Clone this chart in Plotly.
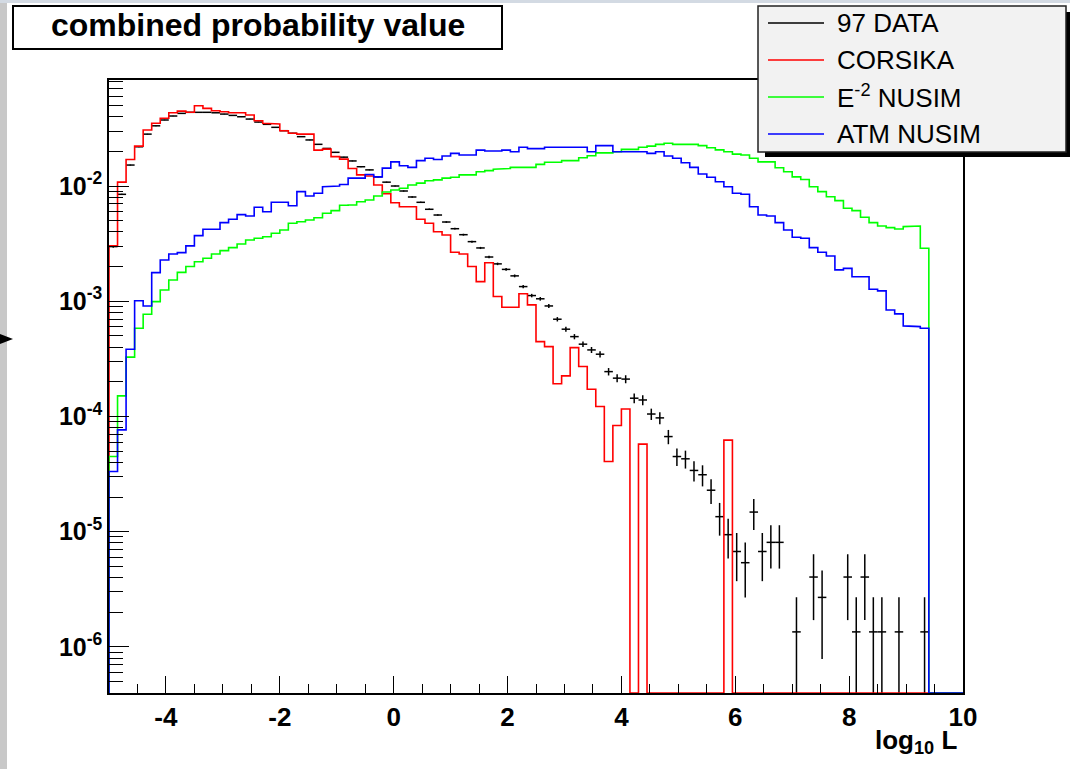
import numpy as np
import plotly.graph_objects as go

# ---------------- data (bin contents, normalised) ----------------
bin_lo, bin_hi, n_bins = -5.0, 10.0, 100
bin_width = 0.15

data_vals = [
    2.98e-3, 8.47e-3, 1.52e-2, 2.19e-2, 2.82e-2, 3.33e-2, 3.74e-2, 4.05e-2, 4.27e-2, 4.36e-2,
    4.36e-2, 4.36e-2, 4.32e-2, 4.21e-2, 4.10e-2, 3.99e-2, 3.81e-2, 3.59e-2, 3.43e-2, 3.23e-2,
    3.02e-2, 2.87e-2, 2.68e-2, 2.51e-2, 2.30e-2, 2.12e-2, 1.96e-2, 1.78e-2, 1.65e-2, 1.47e-2,
    1.38e-2, 1.20e-2, 1.08e-2, 1.00e-2, 9.05e-3, 8.03e-3, 7.22e-3, 6.28e-3, 5.60e-3, 4.87e-3,
    4.26e-3, 3.78e-3, 3.29e-3, 2.90e-3, 2.42e-3, 2.11e-3, 1.89e-3, 1.66e-3, 1.34e-3, 1.12e-3,
    1.05e-3, 9.10e-4, 6.98e-4, 5.72e-4, 4.93e-4, 4.24e-4, 3.78e-4, 3.47e-4, 2.45e-4, 2.15e-4,
    2.11e-4, 1.44e-4, 1.39e-4, 1.05e-4, 9.72e-5, 6.69e-5, 4.49e-5, 4.29e-5, 3.40e-5, 3.12e-5,
    2.29e-5, 1.35e-5, 9.42e-6, 6.73e-6, 5.38e-6, 1.48e-5, 6.73e-6, 8.08e-6, 8.08e-6, 0,
    1.35e-6, 0, 4.04e-6, 2.69e-6, 0, 0, 4.04e-6, 1.35e-6, 4.04e-6, 1.35e-6,
    1.35e-6, 0, 1.35e-6, 0, 0, 1.35e-6, 0, 0, 0, 0,
]
event_weight = 1.346e-6  # normalised weight of a single data event

corsika_vals = [
    3.03e-3, 1.08e-2, 1.70e-2, 2.22e-2, 3.06e-2, 3.50e-2, 3.87e-2, 4.32e-2, 4.47e-2, 4.36e-2,
    4.97e-2, 4.72e-2, 4.50e-2, 4.41e-2, 4.32e-2, 4.32e-2, 4.13e-2, 3.68e-2, 3.50e-2, 3.45e-2,
    3.02e-2, 2.87e-2, 2.82e-2, 2.82e-2, 2.05e-2, 2.09e-2, 1.80e-2, 1.71e-2, 1.42e-2, 1.25e-2,
    1.22e-2, 1.02e-2, 8.57e-3, 7.16e-3, 6.61e-3, 6.61e-3, 5.14e-3, 4.75e-3, 4.01e-3, 3.76e-3,
    2.66e-3, 2.57e-3, 2.00e-3, 1.48e-3, 2.16e-3, 1.10e-3, 8.87e-4, 8.87e-4, 1.16e-3, 9.29e-4,
    4.46e-4, 4.04e-4, 1.92e-4, 2.25e-4, 3.96e-4, 2.71e-4, 1.72e-4, 1.22e-4, 4.06e-5, 8.34e-5,
    1.16e-4, 0, 5.75e-5, 0, 0, 0, 0, 0, 0, 0,
    0, 0, 6.23e-5, 0, 0, 0, 0, 0, 0, 0,
    0, 0, 0, 0, 0, 0, 0, 0, 0, 0,
    0, 0, 0, 0, 0, 0, 0, 0, 0, 0,
]

e2_nusim_vals = [
    4.49e-5, 1.51e-4, 3.27e-4, 5.83e-4, 7.72e-4, 9.92e-4, 1.25e-3, 1.53e-3, 1.78e-3, 2.00e-3,
    2.20e-3, 2.36e-3, 2.57e-3, 2.75e-3, 2.92e-3, 3.14e-3, 3.40e-3, 3.52e-3, 3.63e-3, 3.89e-3,
    4.15e-3, 4.75e-3, 4.90e-3, 5.07e-3, 5.31e-3, 5.80e-3, 6.11e-3, 6.80e-3, 6.85e-3, 7.31e-3,
    7.56e-3, 8.19e-3, 8.87e-3, 9.23e-3, 9.55e-3, 1.02e-2, 1.06e-2, 1.11e-2, 1.13e-2, 1.17e-2,
    1.19e-2, 1.25e-2, 1.25e-2, 1.33e-2, 1.36e-2, 1.40e-2, 1.42e-2, 1.45e-2, 1.45e-2, 1.45e-2,
    1.54e-2, 1.61e-2, 1.61e-2, 1.66e-2, 1.66e-2, 1.76e-2, 1.83e-2, 1.94e-2, 1.94e-2, 1.98e-2,
    2.08e-2, 2.08e-2, 2.17e-2, 2.22e-2, 2.30e-2, 2.35e-2, 2.30e-2, 2.30e-2, 2.30e-2, 2.24e-2,
    2.15e-2, 2.06e-2, 1.98e-2, 1.89e-2, 1.86e-2, 1.74e-2, 1.62e-2, 1.62e-2, 1.44e-2, 1.33e-2,
    1.20e-2, 1.14e-2, 9.86e-3, 8.93e-3, 8.08e-3, 7.46e-3, 6.41e-3, 6.11e-3, 5.35e-3, 4.81e-3,
    4.50e-3, 4.35e-3, 4.24e-3, 4.44e-3, 4.50e-3, 2.88e-3, 0, 0, 0, 0,
]

atm_nusim_vals = [
    3.33e-5, 7.65e-5, 3.83e-4, 1.01e-3, 9.10e-4, 1.77e-3, 2.28e-3, 2.57e-3, 2.64e-3, 3.02e-3,
    3.71e-3, 4.21e-3, 4.21e-3, 4.81e-3, 5.14e-3, 5.64e-3, 5.49e-3, 6.54e-3, 5.98e-3, 7.22e-3,
    7.22e-3, 6.75e-3, 8.93e-3, 8.19e-3, 8.64e-3, 9.86e-3, 1.00e-2, 1.03e-2, 1.17e-2, 1.17e-2,
    1.26e-2, 1.20e-2, 1.43e-2, 1.62e-2, 1.50e-2, 1.45e-2, 1.66e-2, 1.74e-2, 1.70e-2, 1.82e-2,
    1.92e-2, 1.86e-2, 1.86e-2, 2.05e-2, 2.01e-2, 2.01e-2, 2.05e-2, 1.98e-2, 2.17e-2, 2.11e-2,
    2.11e-2, 2.17e-2, 2.17e-2, 2.17e-2, 2.17e-2, 2.17e-2, 1.98e-2, 2.24e-2, 2.24e-2, 1.98e-2,
    1.98e-2, 1.98e-2, 1.98e-2, 1.92e-2, 1.98e-2, 1.82e-2, 1.74e-2, 1.59e-2, 1.45e-2, 1.27e-2,
    1.19e-2, 1.09e-2, 9.86e-3, 8.64e-3, 8.47e-3, 6.61e-3, 5.60e-3, 5.49e-3, 4.81e-3, 4.15e-3,
    3.59e-3, 3.52e-3, 2.92e-3, 2.66e-3, 2.47e-3, 1.87e-3, 1.93e-3, 1.63e-3, 1.63e-3, 1.27e-3,
    1.23e-3, 8.40e-4, 7.76e-4, 6.11e-4, 6.02e-4, 5.83e-4, 0, 0, 0, 0,
]

series_names = ["97 DATA", "CORSIKA", "E<sup>-2</sup> NUSIM", "ATM NUSIM"]
series_colors = ["#000000", "#ff0000", "#00ff00", "#0000ff"]

x_tick_vals = [-4, -2, 0, 2, 4, 6, 8, 10]
x_tick_text = ["-4", "-2", "0", "2", "4", "6", "8", "10"]
y_tick_vals = [1e-6, 1e-5, 1e-4, 1e-3, 1e-2]
y_tick_text = ["10<sup>-6</sup>", "10<sup>-5</sup>", "10<sup>-4</sup>", "10<sup>-3</sup>", "10<sup>-2</sup>"]
y_log_range = [-6.40, -1.08]

title_text = "combined probability value"
x_title_text = "log<sub>10</sub> L"

# ---------------- layout geometry ----------------
W, H = 1070, 769
ML, MR, MT, MB = 109, 107, 80, 76
PW, PH = W - ML - MR, H - MT - MB
FONT = "Liberation Sans"


def px(x):
    return (x - ML) / PW


def py(y):
    return (H - MB - y) / PH


edges = bin_lo + bin_width * np.arange(n_bins + 1)
centers = edges[:-1] + bin_width / 2
y_floor = 10 ** y_log_range[0]


def step_xy(vals):
    v = np.asarray(vals, dtype=float)
    v = np.where(v > 0, v, y_floor)
    xs = np.repeat(edges, 2)[1:-1]
    ys = np.repeat(v, 2)
    xs = np.concatenate([[edges[0]], xs, [edges[-1]]])
    ys = np.concatenate([[y_floor], ys, [y_floor]])
    return xs, ys


fig = go.Figure()

# data points with error bars
dv = np.asarray(data_vals, dtype=float)
mask = dv > 0
fig.add_trace(go.Scatter(
    x=centers[mask], y=dv[mask], mode="markers",
    marker=dict(size=0.1, color="black"),
    error_x=dict(type="data", array=np.full(mask.sum(), bin_width / 2), width=0,
                 thickness=1.5, color="black"),
    error_y=dict(type="data", array=np.sqrt(dv[mask] * event_weight), width=0,
                 thickness=1.5, color="black"),
    name=series_names[0], showlegend=False,
))

for vals, name, col in [(corsika_vals, series_names[1], series_colors[1]),
                        (e2_nusim_vals, series_names[2], series_colors[2]),
                        (atm_nusim_vals, series_names[3], series_colors[3])]:
    xs, ys = step_xy(vals)
    fig.add_trace(go.Scatter(x=xs, y=ys, mode="lines", line=dict(color=col, width=1.6),
                             name=name, showlegend=False))

# minor ticks for the log axis
y_minor = [k * 10.0 ** e for e in range(-7, -1) for k in range(2, 10)
           if y_log_range[0] <= np.log10(k * 10.0 ** e) <= y_log_range[1]]

fig.update_xaxes(
    range=[bin_lo, bin_hi], tickmode="array", tickvals=x_tick_vals, ticktext=x_tick_text,
    ticks="inside", ticklen=17, tickwidth=1.4, tickcolor="black",
    minor=dict(ticks="inside", ticklen=9, tickwidth=1.2, tickcolor="black",
               tickmode="linear", tick0=0, dtick=0.5, showgrid=False),
    showline=True, linecolor="black", linewidth=1.5, mirror=True,
    showgrid=False, zeroline=False,
    tickfont=dict(family=FONT, size=26, color="black", weight="bold"),
)
fig.update_yaxes(
    type="log", range=y_log_range, tickmode="array", tickvals=y_tick_vals, ticktext=y_tick_text,
    ticks="inside", ticklen=20, tickwidth=1.4, tickcolor="black",
    minor=dict(ticks="inside", ticklen=14, tickwidth=1.2, tickcolor="black",
               tickmode="array", tickvals=y_minor, showgrid=False),
    showline=True, linecolor="black", linewidth=1.5, mirror=True,
    showgrid=False, zeroline=False,
    tickfont=dict(family=FONT, size=25, color="black", weight="bold"),
)

shapes = []
annotations = []

# screenshot frame remnants
shapes.append(dict(type="rect", xref="paper", yref="paper", x0=px(0), x1=px(7), y0=py(H), y1=py(0),
                   fillcolor="#c8c8c8", line=dict(width=0), layer="above"))
shapes.append(dict(type="rect", xref="paper", yref="paper", x0=px(0), x1=px(W), y0=py(3), y1=py(0),
                   fillcolor="#d3dae3", line=dict(width=0), layer="above"))
shapes.append(dict(type="path", xref="paper", yref="paper",
                   path=f"M {px(0)},{py(334)} L {px(13)},{py(339)} L {px(0)},{py(344)} Z",
                   fillcolor="black", line=dict(width=0), layer="above"))

# title box
shapes.append(dict(type="rect", xref="paper", yref="paper", x0=px(13), x1=px(502), y0=py(49), y1=py(6),
                   fillcolor="white", line=dict(color="black", width=2), layer="above"))
annotations.append(dict(text=f"<b>{title_text}</b>", xref="paper", yref="paper", x=px(257.5), y=py(25),
                        xanchor="center", yanchor="middle", showarrow=False,
                        font=dict(family=FONT, size=32, color="black")))

# legend box with shadow
shapes.append(dict(type="rect", xref="paper", yref="paper", x0=px(765), x1=px(1070), y0=py(157), y1=py(12),
                   fillcolor="black", line=dict(width=0), layer="above"))
shapes.append(dict(type="rect", xref="paper", yref="paper", x0=px(758), x1=px(1066), y0=py(152), y1=py(6),
                   fillcolor="#f2f2f2", line=dict(color="#222222", width=1.5), layer="above"))
leg_rows = [23, 60, 97, 134]
for name, col, yy in zip(series_names, series_colors, leg_rows):
    shapes.append(dict(type="line", xref="paper", yref="paper", x0=px(768), x1=px(824), y0=py(yy), y1=py(yy),
                       line=dict(color=col, width=1.6), layer="above"))
    annotations.append(dict(text=name, xref="paper", yref="paper", x=px(835), y=py(yy),
                            xanchor="left", yanchor="middle", showarrow=False,
                            font=dict(family=FONT, size=26, color="black")))

# x axis title
annotations.append(dict(text=f"<b>{x_title_text}</b>", xref="paper", yref="paper", x=px(959), y=py(741),
                        xanchor="right", yanchor="middle", showarrow=False,
                        font=dict(family=FONT, size=26, color="black")))

fig.update_layout(
    width=W, height=H, margin=dict(l=ML, r=MR, t=MT, b=MB, pad=0),
    paper_bgcolor="white", plot_bgcolor="white",
    showlegend=False, shapes=shapes, annotations=annotations,
    font=dict(family=FONT, color="black"),
)

fig.write_html("out.html")
